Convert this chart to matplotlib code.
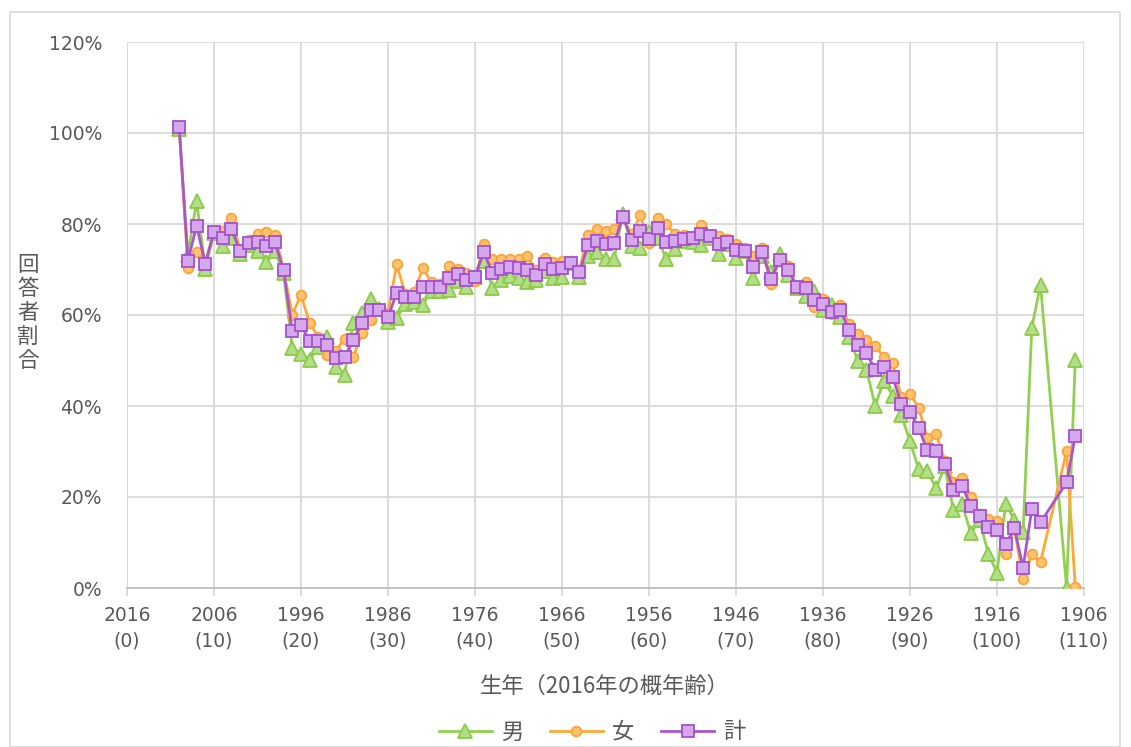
import numpy as np
import matplotlib
matplotlib.use("Agg")
import matplotlib.pyplot as plt
from matplotlib.patches import Rectangle

nan = np.nan
ages = list(range(6, 110))

male = [100.9, 73.2, 85.1, 70.2, 78.0, 75.2, 76.9, 73.4, 75.4, 74.1,
        71.6, 74.1, 69.2, 52.8, 51.5, 50.2, 53.0, 55.2, 48.6, 46.9,
        58.3, 60.5, 63.6, 61.4, 58.5, 59.3, 62.5, 62.8, 62.3, 65.3,
        65.3, 65.5, 67.5, 66.2, 68.4, 71.9, 66.0, 67.7, 68.6, 68.1,
        67.2, 67.8, 69.6, 68.1, 68.3, 71.5, 68.4, 73.0, 73.8, 72.2,
        72.3, 82.3, 75.1, 74.8, 78.3, 76.9, 72.2, 74.5, 76.2, 76.0,
        75.3, 77.0, 73.4, 75.5, 72.6, 74.0, 68.1, 73.0, 69.4, 73.3,
        68.9, 66.0, 64.1, 65.2, 61.0, 62.3, 59.5, 55.1, 50.0, 47.9,
        40.1, 45.6, 42.3, 38.0, 32.3, 26.1, 25.7, 21.9, 26.8, 17.1,
        18.4, 12.0, 15.0, 7.5, 3.4, 18.4, 15.0, 12.3, 57.2, 66.7,
        nan, nan, 0.0, 50.1]

female = [101.6, 70.3, 73.8, 71.5, 78.5, 78.5, 81.4, 74.3, 76.5, 77.8,
          78.2, 77.6, 69.9, 60.1, 64.4, 58.2, 55.2, 51.1, 52.1, 54.8,
          50.7, 56.0, 58.8, 61.1, 60.5, 71.1, 64.6, 65.0, 70.3, 67.2,
          66.8, 70.8, 70.1, 69.2, 67.5, 75.6, 72.3, 72.3, 72.3, 72.3,
          72.9, 69.8, 72.5, 71.6, 71.8, 71.6, 69.9, 77.6, 79.0, 78.5,
          79.0, 81.4, 77.8, 81.9, 75.9, 81.4, 80.0, 77.7, 77.5, 77.3,
          79.7, 77.5, 77.3, 76.7, 75.5, 74.8, 72.9, 74.7, 66.8, 72.0,
          70.7, 65.9, 67.2, 61.8, 63.5, 60.2, 62.3, 58.0, 55.8, 54.4,
          53.1, 50.8, 49.4, 42.0, 42.7, 39.6, 32.9, 33.8, 28.0, 23.3,
          24.2, 20.1, 16.2, 15.2, 14.8, 7.4, 13.0, 1.9, 7.4, 5.7,
          nan, nan, 30.1, 0.2]

total = [101.3, 71.9, 79.6, 71.3, 78.3, 77.0, 79.0, 74.0, 75.8, 76.0,
         75.1, 76.0, 69.8, 56.5, 57.7, 54.3, 54.3, 53.3, 50.5, 50.7,
         54.4, 58.2, 61.1, 61.1, 59.6, 64.8, 64.0, 63.9, 66.2, 66.2,
         66.2, 68.1, 69.1, 67.8, 68.4, 73.9, 69.2, 70.2, 70.5, 70.3,
         70.0, 68.7, 71.2, 70.1, 70.3, 71.4, 69.4, 75.4, 76.3, 75.6,
         75.8, 81.6, 76.5, 78.4, 76.7, 79.1, 76.1, 76.2, 76.7, 76.9,
         77.7, 77.4, 75.6, 76.0, 74.3, 74.1, 70.6, 73.9, 67.9, 72.1,
         70.0, 66.2, 65.9, 63.2, 62.4, 60.7, 61.1, 56.7, 53.4, 51.6,
         48.0, 48.5, 46.4, 40.5, 38.7, 35.1, 30.3, 30.1, 27.2, 21.6,
         22.4, 18.0, 15.8, 13.3, 12.7, 9.7, 13.1, 4.5, 17.3, 14.4,
         nan, nan, 23.2, 33.4]

tick_ages = list(range(0, 111, 10))
tick_labels = [f"{2016 - a}\n({a})" for a in tick_ages]
y_ticks = list(range(0, 121, 20))
series_names = ["男", "女", "計"]

jp = ["Noto Sans CJK JP", "DejaVu Sans"]
txt_color = "#595959"
grid_color = "#d9d9d9"

fig = plt.figure(figsize=(11.31, 7.47), dpi=100)
fig.add_artist(Rectangle((10 / 1131, 0), 1110 / 1131, 1 - 12 / 747,
                         transform=fig.transFigure, fill=False,
                         edgecolor=grid_color, linewidth=1.2))
ax = fig.add_axes([127 / 1131, 1 - 588 / 747, (1084 - 127) / 1131, (588 - 42) / 747])

styles = [
    dict(color="#92d050", marker="^", mfc="#b4dd88", mec="#8ccb48", ms=9.5, z=3),
    dict(color="#ffa836", marker="o", mfc="#ffc26f", mec="#fba43a", ms=7, z=4),
    dict(color="#aa55d0", marker="s", mfc="#d4a8ea", mec="#a650cf", ms=8, z=5),
]
for name, vals, st in zip(series_names, [male, female, total], styles):
    v = np.array(vals, dtype=float)
    a = np.array(ages, dtype=float)
    m = ~np.isnan(v)
    ax.plot(a[m], v[m], color=st["color"], lw=2.0, marker=st["marker"],
            mfc=st["mfc"], mec=st["mec"], mew=1.3, ms=st["ms"],
            zorder=st["z"], label=name)

ax.set_xlim(0, 110)
ax.set_ylim(0, 120)
ax.set_xticks(tick_ages)
ax.set_xticklabels(tick_labels, fontsize=13.5, color=txt_color,
                   linespacing=1.4, family="DejaVu Sans")
ax.set_yticks(y_ticks)
ax.set_yticklabels([f"{t}%" for t in y_ticks], fontsize=13.5,
                   color=txt_color, family="DejaVu Sans")
ax.grid(True, color=grid_color, lw=1.3, zorder=0)
ax.set_axisbelow(True)
for s in ["top", "right", "left"]:
    ax.spines[s].set_visible(False)
ax.spines["bottom"].set_color("#bfbfbf")
ax.spines["bottom"].set_linewidth(1.3)
ax.tick_params(axis="x", length=6, color=grid_color, width=1.3, pad=7)
ax.tick_params(axis="y", length=0, pad=18)

fig.text(605 / 1131, 1 - 686 / 747, "生年（2016年の概年齢）", ha="center",
         va="center", fontsize=16, color=txt_color, family=jp)
fig.text(28 / 1131, 1 - 313 / 747, "回\n答\n者\n割\n合", ha="center",
         va="center", fontsize=15.5, color=txt_color, family=jp,
         linespacing=1.12)

leg = fig.legend(loc="center", bbox_to_anchor=(592 / 1131, 1 - 732 / 747),
                 ncol=3, frameon=False, prop={"family": jp, "size": 16},
                 handlelength=2.4, columnspacing=1.2, handletextpad=0.4)
for t in leg.get_texts():
    t.set_color(txt_color)

fig.savefig("out.png", dpi=100)
